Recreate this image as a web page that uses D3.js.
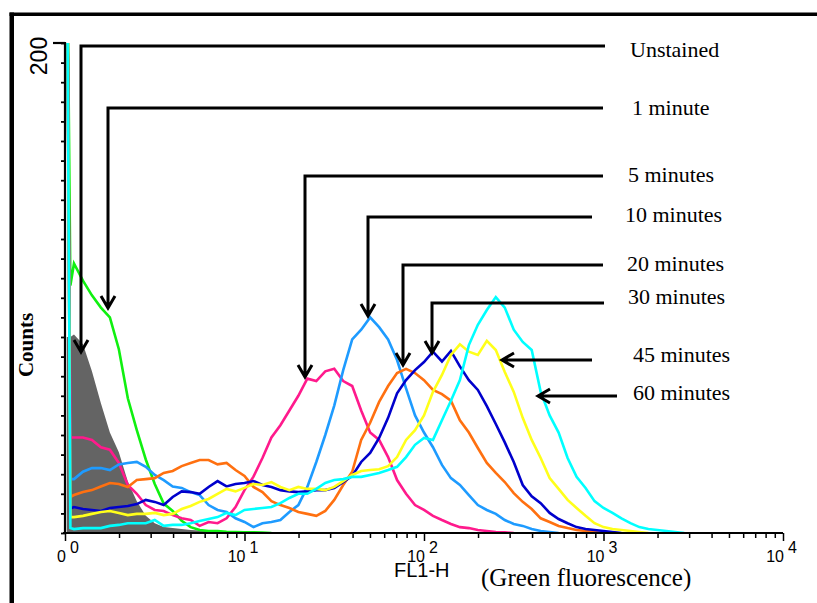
<!DOCTYPE html>
<html lang="en">
<head>
    <meta charset="UTF-8">
    <title>FL1-H histogram</title>
    <style>
        body { margin: 0; background: #fff; }
        .serif { font-family: "Liberation Serif", "Times New Roman", serif; }
        .sans { font-family: "Liberation Sans", Arial, sans-serif; }
    </style>
</head>
<body>
<script src="https://d3js.org/d3.v7.min.js" charset="utf-8"></script>
<script>
    var width = 817, height = 603;

    /* channel positions in decades (log10 of FL1-H) */
    var channels = [0.01, 0.03].concat(d3.range(1, 71).map(function (k) { return k * 0.05; }));

    /* counts per channel */
    var unstained = [80, 80, 81, 77, 66, 53, 41, 33, 21, 13, 7, 4, 2.5, 2, 1.6, 1.2, 1, 0.8, 0.5, 0.4, 0.3, 0.2, 0];
    var min1 = [260, 101, 110, 103, 97, 92, 88, 75, 55, 42, 30, 20, 12, 9, 5, 2.4, 1.2, 0.8, 0.8, 0.5, 0.4, 0.3, 0.3, 0.2, 0];
    var min5 = [260, 39, 39, 39, 38, 35, 34, 28.6, 19.6, 16, 11.4, 9.4, 9, 7.3, 6, 5.3, 2.9, 4.5, 4, 6, 10.6, 17.5,
        23, 30.6, 39, 44, 50, 56, 63, 62, 66, 67, 62, 60, 50, 41, 38, 31, 21.6, 16, 11.4, 9.4, 7, 5.3, 3.7, 2.4, 2,
        1.2, 0.8, 0.4, 0.3, 0];
    var min10 = [260, 22, 22, 25, 26.5, 26.5, 25.7, 28, 28.6, 29, 27, 23.7, 21.6, 19, 18.4, 16.7, 15.5, 11.4, 9.4,
        8.6, 6, 4.5, 2.4, 4, 4.5, 5.3, 8.6, 11.4, 18.8, 29, 40, 52, 66.5, 79, 83, 88, 84, 79, 70.6, 59, 48, 41, 35,
        27.8, 22.4, 19.6, 15.5, 11.4, 9.4, 7.8, 5.3, 3.7, 2.9, 1.6, 0.8, 0.4, 0];
    var min20 = [260, 14.7, 15.5, 16.7, 17.5, 19, 20.4, 20, 18.8, 21.6, 22, 22.4, 24.5, 25.3, 27.3, 28.6, 29.8, 29.8,
        28, 28.6, 25.7, 23.3, 18.8, 16.7, 13, 11.4, 10.2, 8.6, 7.8, 7, 9, 13.5, 19.6, 25, 38, 45, 53.5, 60, 65.3, 67,
        65.3, 62.4, 58.4, 56.7, 54, 46, 41, 34.7, 28.6, 24.5, 20.8, 16.3, 12.7, 9.8, 6, 4.5, 2.9, 2, 1.2, 0.8, 0.4, 0];
    var min30 = [260, 10, 10.6, 9.8, 9.4, 9, 10.2, 10.6, 11, 11.8, 13.5, 12.7, 11.4, 14.7, 17, 16.7, 16, 18.8, 21.2,
        19, 20, 20.4, 21.2, 19.6, 18.8, 17.5, 17, 16.7, 17, 17.5, 17.5, 18.4, 20.8, 23.3, 29, 32.7, 38.8, 47, 57, 62.4,
        66.5, 69.8, 74, 70, 74.3, 68, 62.4, 58.4, 51.8, 44.5, 37, 29, 19.6, 15, 12.2, 8.2, 5.7, 4, 2.4, 1.6, 1.2, 0.8,
        0.4, 0];
    var min45 = [260, 6.5, 6.5, 7, 7.8, 8.6, 9, 8.2, 7.3, 7.8, 7.8, 8.2, 7.3, 7.8, 9.8, 11, 12.7, 13.9, 16, 18, 17,
        18.4, 20, 19.6, 20.8, 18.8, 17.5, 18.8, 18, 18, 17.5, 18.8, 21.2, 23.7, 25.3, 25.7, 26, 27.3, 31, 38, 42, 48,
        57.6, 64.5, 72.7, 77, 74, 72.7, 78.4, 74.7, 65.7, 57.6, 47, 38, 30.6, 22.4, 18, 13.5, 10.2, 7, 4, 2.4, 1.6,
        1.2, 0.8, 0.4, 0];
    var min60 = [260, 2, 1.6, 2, 2, 2, 2.9, 3.3, 4, 4, 4, 5.3, 2.9, 3.3, 3.3, 4, 4.9, 5.7, 6.5, 8.2, 7.3, 9.4, 9.8,
        10.2, 10.6, 12.2, 14.3, 16, 16, 18, 20.4, 21.6, 22, 22.9, 22.9, 23.7, 24.5, 25.7, 27, 31, 36, 38.8, 38, 46, 54,
        62.4, 76.7, 85, 91, 96.3, 92, 83, 78, 74.7, 57.6, 48, 41, 30.6, 22.9, 18.4, 13, 10.2, 8.2, 6, 4, 2.4, 1.6, 1.2,
        0.8, 0.4, 0];

    var labels = ["Unstained", "1 minute", "5 minutes", "10 minutes", "20 minutes", "30 minutes", "45 minutes", "60 minutes"];
    var colors = ["#646464", "#10f010", "#ff1a8c", "#1e9bff", "#ff7010", "#0000cc", "#ffff1a", "#00ffff"];
    var lineSeries = [min1, min5, min10, min20, min30, min45, min60];

    var decades = [0, 1, 2, 3, 4];
    var yTicks = d3.range(0, 201, 8);

    /* callouts: horizontal bar at y, from x0 to x1; elbow arrows drop from x0 down to tip */
    var callouts = [
        {bar: 46, x0: 81, x1: 605, tip: 352, tx: 630, ty: 57},
        {bar: 108, x0: 108, x1: 603, tip: 308, tx: 632, ty: 115},
        {bar: 176, x0: 305, x1: 603, tip: 377, tx: 628, ty: 182},
        {bar: 217, x0: 368, x1: 592, tip: 316, tx: 625, ty: 222},
        {bar: 265, x0: 403, x1: 603, tip: 365, tx: 627, ty: 271},
        {bar: 303, x0: 432, x1: 604, tip: 353, tx: 628, ty: 304},
        {bar: 360, x0: 502, x1: 592, tip: null, tx: 633, ty: 362},
        {bar: 396, x0: 538, x1: 617, tip: null, tx: 633, ty: 400}
    ];

    var svg = d3.select("body").append("svg")
        .attr("width", width)
        .attr("height", height);

    var x = d3.scaleLog().domain([1, 10000]).range([65, 783]);
    var y = d3.scaleLinear().domain([0, 200]).range([533, 43]);

    svg.append("clipPath").attr("id", "plot")
        .append("rect")
        .attr("x", 65).attr("y", 43)
        .attr("width", 718).attr("height", 490);

    svg.append("clipPath").attr("id", "labels")
        .append("rect")
        .attr("x", 57).attr("y", 530)
        .attr("width", 760).attr("height", 70);

    /* frame */
    svg.append("rect").attr("x", 9.5).attr("y", 12.5).attr("width", 4.5).attr("height", height - 12.5).attr("fill", "#000");
    svg.append("rect").attr("x", 9.5).attr("y", 12.5).attr("width", width - 9.5).attr("height", 3.5).attr("fill", "#000");

    var plot = svg.append("g").attr("clip-path", "url(#plot)");

    /* unstained: filled histogram */
    var area = d3.area()
        .x(function (d, i) { return x(Math.pow(10, channels[i])); })
        .y0(y(0))
        .y1(function (d) { return y(d); });

    plot.append("path")
        .datum(unstained)
        .attr("d", area)
        .attr("fill", colors[0]);

    var line = d3.line()
        .x(function (d, i) { return x(Math.pow(10, channels[i])); })
        .y(function (d) { return y(d); });

    plot.selectAll(".trace")
        .data(lineSeries)
        .enter()
        .append("path")
        .attr("class", "trace")
        .attr("d", line)
        .attr("fill", "none")
        .attr("stroke", function (d, i) { return colors[i + 1]; })
        .attr("stroke-width", 2.6);

    /* axes */
    var minor = x.ticks().filter(function (v) { return decades.indexOf(Math.round(Math.log10(v) * 1000) / 1000) < 0; });

    svg.append("g")
        .attr("transform", "translate(0," + y(0) + ")")
        .call(d3.axisBottom(x).tickValues(minor).tickSize(5).tickSizeOuter(0).tickFormat(""))
        .call(function (g) {
            g.selectAll("line").attr("stroke", "#000").attr("stroke-width", 1.5);
            g.select(".domain").remove();
        });

    svg.append("g")
        .attr("transform", "translate(0," + y(0) + ")")
        .call(d3.axisBottom(x).tickValues(decades.map(function (d) { return Math.pow(10, d); }))
            .tickSize(8).tickSizeOuter(0).tickFormat(""))
        .call(function (g) {
            g.selectAll("line").attr("stroke", "#000").attr("stroke-width", 1.5);
            g.select(".domain").attr("stroke", "#000").attr("stroke-width", 2.2).attr("d", "M63,0H783");
        });

    svg.append("g")
        .attr("transform", "translate(65,0)")
        .call(d3.axisLeft(y).tickValues(yTicks).tickSize(4).tickSizeOuter(0).tickFormat(""))
        .call(function (g) {
            g.selectAll("line").attr("stroke", "#000").attr("stroke-width", 1.8);
            g.select(".domain").attr("stroke", "#000").attr("stroke-width", 2.2).attr("d", "M0,42V534");
        });

    svg.append("line")
        .attr("x1", 53).attr("x2", 65)
        .attr("y1", y(200)).attr("y2", y(200))
        .attr("stroke", "#000").attr("stroke-width", 2.2);

    /* x tick labels 10^n */
    var tickLabels = svg.append("g").attr("class", "sans").attr("clip-path", "url(#labels)");
    tickLabels.selectAll(".base")
        .data(decades)
        .enter()
        .append("text")
        .attr("x", function (d) { return x(Math.pow(10, d)) + 1; })
        .attr("y", 562)
        .attr("text-anchor", "end")
        .attr("font-size", "16px")
        .text("10");
    tickLabels.selectAll(".exp")
        .data(decades)
        .enter()
        .append("text")
        .attr("x", function (d) { return x(Math.pow(10, d)) + 5; })
        .attr("y", 553)
        .attr("font-size", "16px")
        .text(function (d) { return d; });

    svg.append("text")
        .attr("class", "sans")
        .attr("x", 394).attr("y", 577)
        .attr("font-size", "20px")
        .text("FL1-H");

    svg.append("text")
        .attr("class", "serif")
        .attr("x", 481).attr("y", 586)
        .attr("font-size", "25px")
        .text("(Green fluorescence)");

    svg.append("text")
        .attr("class", "sans")
        .attr("transform", "translate(47,56) rotate(-90)")
        .attr("text-anchor", "middle")
        .attr("font-size", "23px")
        .text("200");

    svg.append("text")
        .attr("class", "serif")
        .attr("transform", "translate(33,345) rotate(-90)")
        .attr("text-anchor", "middle")
        .attr("font-size", "21px")
        .attr("font-weight", "bold")
        .text("Counts");

    /* callouts */
    var notes = svg.append("g")
        .attr("fill", "none")
        .attr("stroke", "#000")
        .attr("stroke-width", 3);

    notes.selectAll(".bar")
        .data(callouts)
        .enter()
        .append("path")
        .attr("d", function (d) {
            if (d.tip === null) {
                return "M" + d.x1 + "," + d.bar + "H" + d.x0 +
                    "M" + (d.x0 + 12) + "," + (d.bar - 7) + "L" + d.x0 + "," + d.bar + "L" + (d.x0 + 12) + "," + (d.bar + 7);
            }
            return "M" + d.x1 + "," + d.bar + "H" + d.x0 + "V" + d.tip +
                "M" + (d.x0 - 7) + "," + (d.tip - 12) + "L" + d.x0 + "," + d.tip + "L" + (d.x0 + 7) + "," + (d.tip - 12);
        });

    svg.selectAll(".label")
        .data(callouts)
        .enter()
        .append("text")
        .attr("class", "serif")
        .attr("x", function (d) { return d.tx; })
        .attr("y", function (d) { return d.ty; })
        .attr("font-size", "22px")
        .text(function (d, i) { return labels[i]; });
</script>
</body>
</html>
